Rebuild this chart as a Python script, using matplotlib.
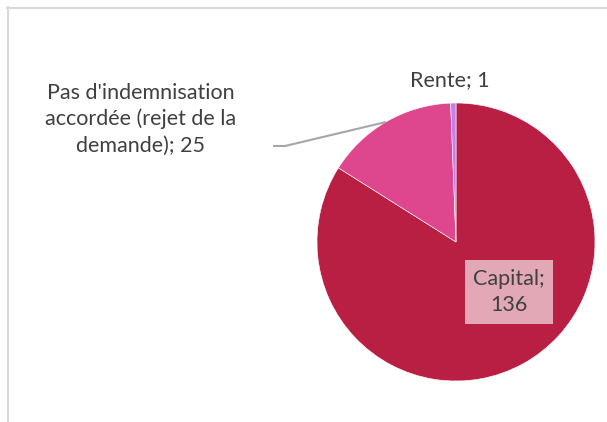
import matplotlib.pyplot as plt
from matplotlib.lines import Line2D

# Répartition des décisions
categories = ["Capital", "Pas d'indemnisation\naccordée (rejet de la\ndemande)", "Rente"]
valeurs = [136, 25, 1]
couleurs = ["#B91F43", "#DE478D", "#C77DF0"]

plt.rcParams['font.family'] = ['Lato', 'DejaVu Sans']
texte = '#404040'

fig = plt.figure(figsize=(6.07, 4.22), dpi=100)
ax = fig.add_axes([0, 0, 1, 1])

# camembert dans le repère en pixels (y vers le haut)
ax.pie(valeurs, colors=couleurs, startangle=90, counterclock=False,
       center=(456, 180), radius=139, frame=True,
       wedgeprops=dict(edgecolor='white', linewidth=0.4))
ax.set_xlim(0, 607)
ax.set_ylim(0, 422)
ax.axis('off')

# étiquette Capital (dans la part)
ax.text(509, 130, f"{categories[0]};\n{valeurs[0]}", ha='center', va='center',
        fontsize=15.5, color=texte, linespacing=1.38,
        bbox=dict(boxstyle='square,pad=0.4', facecolor='#E2A8B5', edgecolor='none'))

# étiquette du rejet, avec trait de rappel
ax.text(141, 303, f"{categories[1]}; {valeurs[1]}", ha='center', va='center',
        fontsize=15.5, color=texte, linespacing=1.38)
ax.plot([273, 285, 386], [276, 276, 300], color='#A6A6A6', lw=1.5,
        solid_capstyle='butt')

# étiquette Rente
ax.text(450, 342, f"{categories[2]}; {valeurs[2]}", ha='center', va='center',
        fontsize=15.5, color=texte)

# bordure du graphique (coupée à droite et en bas)
fig.add_artist(Line2D([7 / 607, 1], [1 - 7.5 / 422, 1 - 7.5 / 422],
                      transform=fig.transFigure, color='#D9D9D9', lw=1.5))
fig.add_artist(Line2D([7.5 / 607, 7.5 / 607], [0, 1 - 7 / 422],
                      transform=fig.transFigure, color='#D9D9D9', lw=1.5))

fig.savefig('out.png', dpi=100)
